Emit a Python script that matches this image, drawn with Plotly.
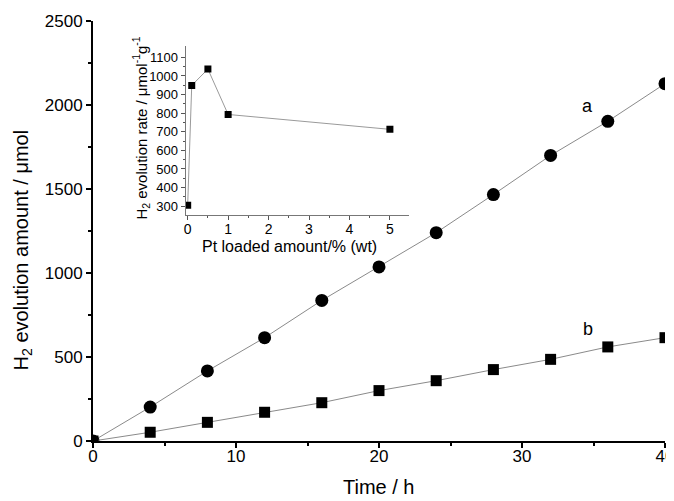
import plotly.graph_objects as go

time_h = [0, 4, 8, 12, 16, 20, 24, 28, 32, 36, 40]
h2_a = [0, 202, 417, 615, 837, 1036, 1240, 1467, 1700, 1903, 2127]
h2_b = [0, 52, 111, 171, 228, 300, 359, 425, 486, 560, 615]

pt_wt = [0, 0.1, 0.5, 1.0, 5.0]
rate = [305, 949, 1037, 793, 713]

FONT = "Liberation Sans, Arial, sans-serif"

fig = go.Figure()
fig.add_trace(go.Scatter(x=time_h, y=h2_a, mode="lines+markers",
                         line=dict(color="#8a8a8a", width=1),
                         marker=dict(symbol="circle", size=13, color="black"),
                         showlegend=False))
fig.add_trace(go.Scatter(x=time_h, y=h2_b, mode="lines+markers",
                         line=dict(color="#8a8a8a", width=1),
                         marker=dict(symbol="square", size=11, color="black"),
                         showlegend=False))
fig.add_trace(go.Scatter(x=pt_wt, y=rate, mode="lines+markers",
                         xaxis="x2", yaxis="y2",
                         line=dict(color="#9a9a9a", width=1),
                         marker=dict(symbol="square", size=7, color="black"),
                         showlegend=False))

fig.add_annotation(x=34.6, y=1992, text="a", showarrow=False,
                   font=dict(size=18, color="black", family=FONT))
fig.add_annotation(x=34.6, y=669, text="b", showarrow=False,
                   font=dict(size=18, color="black", family=FONT))
# main axis titles
fig.add_annotation(xref="paper", yref="paper", x=0.5, y=-0.110, yanchor="middle",
                   text="Time / h", showarrow=False,
                   font=dict(size=20, color="black", family=FONT))
fig.add_annotation(xref="paper", yref="paper", x=-0.124, y=0.454, xanchor="center",
                   yanchor="middle", textangle=-90,
                   text="H<sub>2</sub> evolution amount / μmol", showarrow=False,
                   font=dict(size=20, color="black", family=FONT))
# inset axis titles
fig.add_annotation(xref="paper", yref="paper", x=0.344, y=0.463, yanchor="middle",
                   text="Pt loaded amount/% (wt)", showarrow=False,
                   font=dict(size=16, color="black", family=FONT))
fig.add_annotation(xref="paper", yref="paper", x=0.083, y=0.745, xanchor="center",
                   yanchor="middle", textangle=-90,
                   text="H<sub>2</sub> evolution rate / μmol<sup>-1</sup>g<sup>-1</sup>",
                   showarrow=False, font=dict(size=15, color="black", family=FONT))

fig.update_layout(
    width=666, height=493,
    margin=dict(l=85, r=9, t=13, b=60),
    paper_bgcolor="white", plot_bgcolor="white",
    font=dict(family=FONT, color="black"),
    xaxis=dict(range=[0, 40], tickvals=[0, 10, 20, 30, 40], automargin=False,
               ticklabeloverflow="allow", ticklabelstandoff=-6,
               ticks="outside", ticklen=5, tickwidth=1.5, tickcolor="black",
               minor=dict(tickvals=[5, 15, 25, 35], ticks="outside", ticklen=3,
                          tickwidth=1.5, tickcolor="black"),
               showline=True, linecolor="black", linewidth=2,
               showgrid=False, zeroline=False,
               tickfont=dict(size=17, family=FONT)),
    yaxis=dict(range=[0, 2500], tickvals=[0, 500, 1000, 1500, 2000, 2500], automargin=False,
               ticks="outside", ticklen=5, tickwidth=1.5, tickcolor="black",
               minor=dict(tickvals=[250, 750, 1250, 1750, 2250], ticks="outside",
                          ticklen=3, tickwidth=1.5, tickcolor="black"),
               showline=True, linecolor="black", linewidth=2,
               showgrid=False, zeroline=False,
               tickfont=dict(size=17, family=FONT)),
    xaxis2=dict(domain=[0.162, 0.553], anchor="y2", range=[-0.05, 5.48], automargin=False,
                tickvals=[0, 1, 2, 3, 4, 5], ticklabelstandoff=-3,
                ticks="outside", ticklen=4, tickwidth=1, tickcolor="#555",
                minor=dict(tickvals=[0.5, 1.5, 2.5, 3.5, 4.5], ticks="outside",
                           ticklen=2, tickwidth=1, tickcolor="#555"),
                showline=True, linecolor="#777", linewidth=1,
                showgrid=False, zeroline=False,
                tickfont=dict(size=14, family=FONT)),
    yaxis2=dict(domain=[0.537, 0.940], anchor="x2", range=[250, 1160], automargin=False,
                tickvals=[300, 400, 500, 600, 700, 800, 900, 1000, 1100],
                ticks="outside", ticklen=4, tickwidth=1, tickcolor="#555",
                minor=dict(tickvals=[350, 450, 550, 650, 750, 850, 950, 1050],
                           ticks="outside", ticklen=2, tickwidth=1, tickcolor="#555"),
                showline=True, linecolor="#777", linewidth=1,
                showgrid=False, zeroline=False,
                tickfont=dict(size=13, family=FONT)),
)

fig.write_html("out.html")
